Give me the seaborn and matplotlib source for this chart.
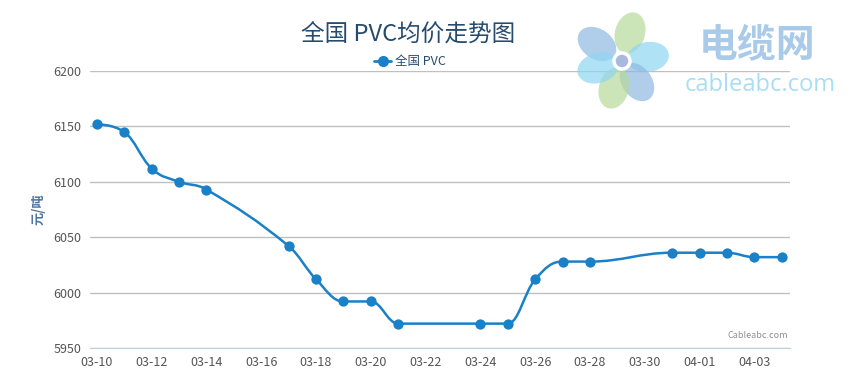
import numpy as np
import pandas as pd
import matplotlib
matplotlib.use('Agg')
import matplotlib.pyplot as plt
import matplotlib.dates as mdates
from matplotlib.path import Path
from matplotlib.patches import PathPatch, Ellipse, Circle
from matplotlib.lines import Line2D
import seaborn as sns

# 数据
dates = ['2014-03-10', '2014-03-11', '2014-03-12', '2014-03-13', '2014-03-14',
         '2014-03-17', '2014-03-18', '2014-03-19', '2014-03-20', '2014-03-21',
         '2014-03-24', '2014-03-25', '2014-03-26', '2014-03-27', '2014-03-28',
         '2014-03-31', '2014-04-01', '2014-04-02', '2014-04-03', '2014-04-04']
prices = [6152, 6145, 6112, 6100, 6093,
          6042, 6012, 5992, 5992, 5972,
          5972, 5972, 6012, 6028, 6028,
          6036, 6036, 6036, 6032, 6032]
tick_dates = pd.date_range('2014-03-10', '2014-04-03', freq='2D')

line_color = '#1a80c8'


def spline_path(xs, ys, smoothing=1.5):
    """Highcharts 风格的平滑曲线"""
    denom = smoothing + 1
    n = len(xs)
    left = [None] * n
    right = [None] * n
    for i in range(1, n - 1):
        px, py = xs[i], ys[i]
        lx, ly = xs[i - 1], ys[i - 1]
        nx, ny = xs[i + 1], ys[i + 1]
        lcx = (smoothing * px + lx) / denom
        lcy = (smoothing * py + ly) / denom
        rcx = (smoothing * px + nx) / denom
        rcy = (smoothing * py + ny) / denom
        if rcx != lcx:
            corr = ((rcy - lcy) * (rcx - px)) / (rcx - lcx) + py - rcy
            lcy += corr
            rcy += corr
        if lcy > max(ly, py):
            lcy = max(ly, py)
            rcy = 2 * py - lcy
        elif lcy < min(ly, py):
            lcy = min(ly, py)
            rcy = 2 * py - lcy
        if rcy > max(py, ny):
            rcy = max(py, ny)
            lcy = 2 * py - rcy
        elif rcy < min(py, ny):
            rcy = min(py, ny)
            lcy = 2 * py - rcy
        left[i] = (lcx, lcy)
        right[i] = (rcx, rcy)
    verts = [(xs[0], ys[0])]
    codes = [Path.MOVETO]
    for i in range(1, n):
        c1 = right[i - 1] if right[i - 1] is not None else (xs[i - 1], ys[i - 1])
        c2 = left[i] if left[i] is not None else (xs[i], ys[i])
        verts += [c1, c2, (xs[i], ys[i])]
        codes += [Path.CURVE4] * 3
    return Path(verts, codes)


df = pd.DataFrame({'date': pd.to_datetime(dates), 'price': prices})
df['x'] = mdates.date2num(df['date'])

sns.set_style('white')
plt.rcParams['font.family'] = ['Noto Sans CJK SC', 'DejaVu Sans']

fig = plt.figure(figsize=(8.54, 3.83), dpi=100)
ax = fig.add_axes([90 / 854, 1 - 348 / 383, 700 / 854, 277 / 383])

path = spline_path(df['x'].tolist(), df['price'].tolist())
ax.add_patch(PathPatch(path, facecolor='none', edgecolor=line_color, lw=1.8, zorder=3))
sns.scatterplot(data=df, x='x', y='price', ax=ax, color=line_color, s=55,
                edgecolor=line_color, linewidth=0, zorder=4, legend=False)

x0 = mdates.date2num(pd.Timestamp('2014-03-10'))
ax.set_xlim(x0 - 0.25, x0 + 25.3)
ax.set_ylim(5950, 6200)
ax.set_yticks([5950, 6000, 6050, 6100, 6150, 6200])
ax.set_xticks(mdates.date2num(tick_dates))
ax.set_xticklabels([d.strftime('%m-%d') for d in tick_dates])
ax.grid(axis='y', color='#c0c0c0', lw=1)
ax.set_axisbelow(True)
for s in ['left', 'right', 'top']:
    ax.spines[s].set_visible(False)
ax.spines['bottom'].set_color('#c0d0e0')
ax.tick_params(axis='x', colors='#c0d0e0', length=5, width=1, labelcolor='#555555',
               labelsize=9, pad=1)
ax.tick_params(axis='y', length=0, labelcolor='#555555', labelsize=9, pad=6)
ax.set_xlabel('')
ax.set_ylabel('元/吨', color='#4d759e', fontsize=9.5, fontweight='bold', labelpad=6)

# 水印
wm = fig.add_axes([0, 0, 1, 1], zorder=5)
wm.set_xlim(0, 854)
wm.set_ylim(383, 0)
wm.axis('off')
petals = [((597, 44), '#8fb9e0'), ((630, 33), '#b5d99a'), ((648, 57), '#8fd6f2'),
          ((637, 82), '#8fb9e0'), ((614, 88), '#b5d99a'), ((598, 68), '#8fd6f2')]
for (cx, cy), col in petals:
    ang = np.degrees(np.arctan2(cy - 61, cx - 622))
    wm.add_patch(Ellipse((cx, cy), 42, 30, angle=ang, color=col, alpha=0.7, lw=0))
wm.add_patch(Circle((622, 61), 8, facecolor='#a9b8de', edgecolor='white', lw=2.5))
wm.text(757, 45, '电缆网', fontsize=28, fontweight='bold', color='#a9cbe9',
        ha='center', va='center')
wm.text(760, 85, 'cableabc.com', fontsize=17, color='#a8def5', ha='center',
        va='center', family='Open Sans')

fig.text(408 / 854, 1 - 35 / 383, '全国 PVC均价走势图', fontsize=17, color='#274b6d',
         ha='center', va='center')
handle = Line2D([], [], color=line_color, lw=2, marker='o', markersize=7)
fig.legend([handle], ['全国 PVC'], loc='center', bbox_to_anchor=(410 / 854, 1 - 62 / 383),
           frameon=False, fontsize=9, handlelength=1.4, handletextpad=0.3,
           labelcolor='#274b6d')
fig.text(788 / 854, 1 - 335 / 383, 'Cableabc.com', fontsize=6.5, color='#909090',
         ha='right', va='center')

fig.savefig('out.png', dpi=100)
